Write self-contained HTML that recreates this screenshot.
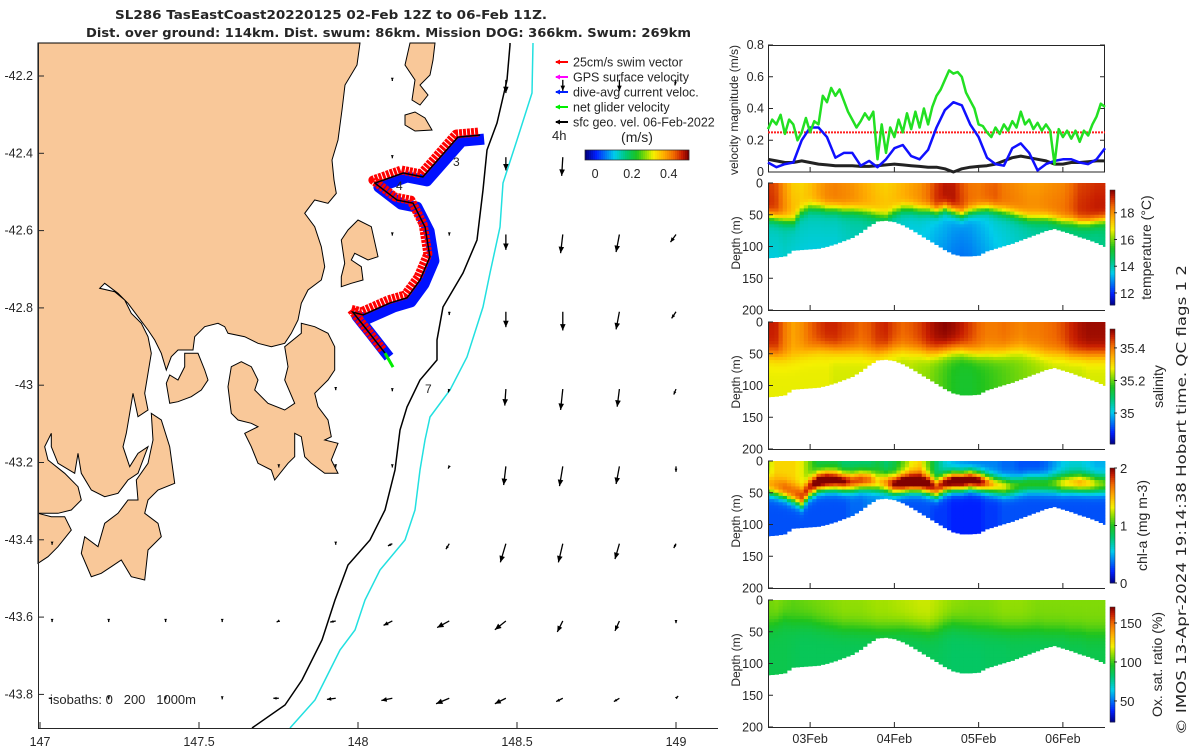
<!DOCTYPE html>
<html><head><meta charset="utf-8"><style>
html,body{margin:0;padding:0;background:#fff}
svg{display:block;font-family:"Liberation Sans",sans-serif}
text{fill:#262626}
</style></head><body>
<svg id="fig" xmlns="http://www.w3.org/2000/svg" width="1200" height="750" viewBox="0 0 1200 750">
<g font-weight="bold" font-size="12.5" font-family="'DejaVu Sans', sans-serif">
<text x="115" y="19" textLength="432" lengthAdjust="spacingAndGlyphs">SL286 TasEastCoast20220125 02-Feb 12Z to 06-Feb 11Z.</text>
<text x="86" y="37" textLength="605" lengthAdjust="spacingAndGlyphs">Dist. over ground: 114km. Dist. swum: 86km. Mission DOG: 366km. Swum: 269km</text>
</g>
<g id="map"></g>
<g id="vel"></g>
<g id="prof"></g>
<text transform="translate(1186,735) rotate(-90)" font-size="13" font-family="'DejaVu Sans', sans-serif" textLength="470" lengthAdjust="spacingAndGlyphs">© IMOS 13-Apr-2024 19:14:38 Hobart time. QC flags 1  2</text>
</svg>
<script>
// ---------------- DATA ----------------
const velTimes=[0,0.1,0.2,0.3,0.4,0.5,0.6,0.7,0.8,0.9,1.0,1.1,1.2,1.3,1.4,1.5,1.6,1.7,1.8,1.9,2.0,2.1,2.2,2.3,2.4,2.5,2.6,2.7,2.8,2.9,3.0,3.1,3.2,3.3,3.4,3.5,3.6,3.7,3.8,3.9,4.0];
const netTimes=[0,0.05,0.1,0.15,0.2,0.25,0.3,0.35,0.4,0.45,0.5,0.55,0.6,0.65,0.7,0.75,0.8,0.85,0.9,0.95,1.0,1.05,1.1,1.15,1.2,1.25,1.3,1.35,1.4,1.45,1.5,1.55,1.6,1.65,1.7,1.75,1.8,1.85,1.9,1.95,2.0,2.05,2.1,2.15,2.2,2.25,2.3,2.35,2.4,2.45,2.5,2.55,2.6,2.65,2.7,2.75,2.8,2.85,2.9,2.95,3.0,3.05,3.1,3.15,3.2,3.25,3.3,3.35,3.4,3.45,3.5,3.55,3.6,3.65,3.7,3.75,3.8,3.85,3.9,3.95,4.0];
const netGliderVel=[0.27,0.33,0.3,0.36,0.24,0.33,0.3,0.2,0.25,0.34,0.25,0.32,0.3,0.48,0.44,0.53,0.48,0.52,0.45,0.38,0.33,0.28,0.32,0.37,0.33,0.38,0.08,0.3,0.12,0.28,0.22,0.33,0.25,0.37,0.27,0.38,0.28,0.4,0.3,0.41,0.48,0.52,0.58,0.64,0.62,0.63,0.6,0.5,0.45,0.4,0.3,0.29,0.25,0.22,0.28,0.24,0.3,0.26,0.32,0.28,0.38,0.3,0.33,0.27,0.31,0.26,0.3,0.26,0.05,0.27,0.22,0.26,0.21,0.26,0.19,0.26,0.23,0.3,0.35,0.43,0.41];
const diveAvgVel=[0.06,0.03,0.05,0.06,0.2,0.28,0.28,0.22,0.09,0.12,0.12,0.04,0.07,0.03,0.08,0.15,0.17,0.1,0.08,0.14,0.28,0.39,0.44,0.42,0.3,0.22,0.09,0.05,0.04,0.15,0.18,0.12,0.01,0.05,0.07,0.08,0.08,0.06,0.05,0.08,0.15];
const sfcGeoVel=[0.08,0.07,0.06,0.06,0.07,0.06,0.05,0.045,0.04,0.04,0.04,0.035,0.035,0.04,0.045,0.05,0.045,0.04,0.035,0.03,0.03,0.02,0.0,0.02,0.03,0.035,0.04,0.05,0.07,0.09,0.1,0.09,0.08,0.07,0.05,0.05,0.06,0.06,0.065,0.07,0.07];
const swimVel=0.25;
const velTicks=[0,0.2,0.4,0.6,0.8];

const profTimes=velTimes;
const bottomDepth=[118,117,115,106,105,104,103,100,96,91,86,78,68,60,59,61,66,73,81,89,97,105,112,115,115,114,107,103,99,95,90,85,80,75,72,76,80,85,89,94,100];
const tempSurf=[19.3,19.0,18.2,17.6,17.4,17.6,18.0,18.3,18.4,18.3,18.2,18.0,17.8,17.6,17.5,17.6,17.8,18.0,18.2,18.6,19.2,19.5,19.5,19.0,18.6,18.5,18.7,18.8,18.5,18.4,18.3,18.2,18.2,18.3,18.4,18.5,18.8,19.2,19.3,19.4,19.4];
const tempMld=[52,55,58,60,45,38,38,40,40,42,42,44,46,50,52,45,40,40,42,42,45,40,45,50,45,42,40,42,45,48,52,55,55,55,57,60,60,62,62,60,58];
const tempDeep=[14.0,14.0,14.1,14.0,14.0,14.0,14.0,14.0,14.0,14.1,14.2,14.2,14.3,14.3,14.2,14.0,13.9,13.8,13.8,13.7,13.5,13.4,13.2,13.1,13.2,13.4,13.6,13.8,13.9,14.0,14.1,14.2,14.3,14.3,14.4,14.4,14.5,14.5,14.5,14.5,14.6];
const salSurf=[35.48,35.47,35.40,35.36,35.38,35.42,35.45,35.47,35.47,35.45,35.44,35.42,35.43,35.46,35.47,35.44,35.42,35.43,35.45,35.48,35.50,35.51,35.50,35.48,35.45,35.42,35.40,35.40,35.41,35.40,35.39,35.40,35.40,35.41,35.42,35.44,35.47,35.49,35.50,35.50,35.50];
const salMld=[50,52,55,55,50,45,42,42,44,45,45,46,48,48,46,44,44,45,46,48,48,46,45,45,48,50,50,50,48,46,45,46,48,50,50,50,52,52,52,52,52];
const salDeep=[35.27,35.27,35.27,35.27,35.27,35.27,35.27,35.27,35.26,35.26,35.26,35.26,35.26,35.26,35.25,35.25,35.24,35.24,35.23,35.22,35.20,35.18,35.16,35.15,35.15,35.16,35.17,35.18,35.19,35.20,35.21,35.22,35.23,35.24,35.25,35.25,35.25,35.25,35.26,35.26,35.26];
const chlSurf=[1.2,1.4,1.4,1.4,1.3,1.1,0.9,0.9,0.9,0.8,0.8,0.8,0.8,0.9,0.8,0.9,1.1,1.3,1.4,1.1,0.8,0.6,0.5,0.45,0.4,0.4,0.4,0.4,0.35,0.35,0.3,0.3,0.3,0.35,0.45,0.55,0.6,0.6,0.55,0.5,0.5];
const chlPeak=[1.5,1.6,1.7,1.7,1.8,1.9,2.2,2.2,2.1,2.0,1.8,1.8,1.7,1.4,1.6,2.0,2.2,2.2,2.2,2.1,1.8,2.0,2.2,2.2,2.2,2.1,1.7,1.4,1.3,1.1,1.0,1.0,1.0,1.0,1.1,1.3,1.4,1.5,1.4,1.2,1.1];
const chlPeakDepth=[35,38,42,48,55,40,32,30,30,32,32,30,30,32,34,36,34,32,32,36,42,35,32,32,30,32,35,38,40,40,38,36,36,36,35,35,34,34,35,36,36];
const chlDeep=[0.3,0.3,0.3,0.3,0.3,0.3,0.3,0.3,0.3,0.3,0.35,0.35,0.4,0.4,0.4,0.35,0.3,0.3,0.3,0.3,0.25,0.25,0.2,0.2,0.2,0.2,0.25,0.25,0.3,0.3,0.3,0.3,0.3,0.3,0.3,0.3,0.3,0.3,0.3,0.3,0.3];
const oxSurf=[106,108,106,104,105,106,107,108,109,110,110,110,111,112,112,113,114,115,116,116,114,112,110,109,108,108,108,109,110,110,110,109,108,108,108,108,108,108,108,108,108];
const oxMld=[40,35,30,35,35,35,38,40,42,44,44,45,45,46,46,45,44,45,46,48,45,40,38,40,42,44,44,45,46,46,46,46,46,48,48,48,50,50,52,52,52];
const oxDeep=[88,88,88,87,86,86,86,86,86,86,86,86,86,86,86,86,86,86,86,86,86,85,84,84,84,84,85,85,85,86,86,86,86,86,86,86,87,87,88,88,88];
const depthTicks=[0,50,100,150,200];
const dayLabels=["03Feb","04Feb","05Feb","06Feb"];
const dayTimes=[0.5,1.5,2.5,3.5];

const trackLon=[148.384,148.314,148.204,148.142,148.053,148.123,148.173,148.211,148.226,148.195,148.154,148.101,148.016,147.984,148.028,148.085];
const trackLat=[-42.353,-42.358,-42.461,-42.451,-42.477,-42.521,-42.529,-42.591,-42.668,-42.728,-42.774,-42.787,-42.818,-42.811,-42.857,-42.917];
const gridLon=[147.038,147.216,147.395,147.573,147.751,147.93,148.108,148.287,148.465,148.644,148.822,149.0];
const gridLat=[-42.21,-42.41,-42.61,-42.81,-43.01,-43.21,-43.41,-43.61,-43.81];
const arrowCol=[6,8,9,10,11, 6,8,9,10, 6,7,8,9,10,11, 6,7,8,9,10,11, 5,6,7,8,9,10,11, 4,5,6,7,8,9,10,11, 0,5,6,7,8,9,10,11, 0,1,2,3,4,5,6,7,8,9,10,11, 0,1,2,3,4,5,6,7,8,9,10,11];
const arrowRow=[0,0,0,0,0, 1,1,1,1, 2,2,2,2,2,2, 3,3,3,3,3,3, 4,4,4,4,4,4,4, 5,5,5,5,5,5,5,5, 6,6,6,6,6,6,6,6, 7,7,7,7,7,7,7,7,7,7,7,7, 8,8,8,8,8,8,8,8,8,8,8,8];
const arrowU=[0,0,0,0,-0.01, 0,0,-0.01,0, 0,0,0,-0.02,-0.03,-0.05, 0,0,0,0,-0.03,-0.04, 0,0,-0.01,-0.01,-0.02,-0.02,-0.02, 0,0,0,-0.01,-0.02,-0.03,-0.03,0, 0,0,-0.04,-0.03,-0.05,-0.04,-0.04,-0.02, 0,0,0,0,-0.02,-0.05,-0.08,-0.11,-0.1,-0.05,-0.04,0, -0.03,0,0,0,-0.05,-0.08,-0.1,-0.12,-0.1,-0.06,-0.05,0.02];
const arrowV=[-0.01,-0.12,-0.1,-0.1,-0.05, -0.01,-0.12,-0.17,-0.01, -0.01,-0.01,-0.14,-0.17,-0.16,-0.07, -0.01,-0.03,-0.14,-0.17,-0.16,-0.06, -0.01,-0.02,-0.03,-0.15,-0.19,-0.16,-0.05, -0.01,-0.01,-0.01,-0.02,-0.17,-0.18,-0.16,-0.05, -0.01,-0.01,-0.02,-0.05,-0.17,-0.17,-0.14,-0.04, -0.01,-0.01,-0.01,-0.01,-0.01,-0.01,-0.04,-0.06,-0.08,-0.1,-0.09,-0.02, 0,-0.01,-0.01,-0.01,0,-0.01,-0.02,-0.05,-0.05,-0.03,-0.03,0.02];
const lonTicks=[147,147.5,148,148.5,149];
const latTicks=[-42.2,-42.4,-42.6,-42.8,-43,-43.2,-43.4,-43.6,-43.8];
const cbTicks=[0,0.2,0.4];

// ---------------- HELPERS ----------------
const NS='http://www.w3.org/2000/svg';
function el(tag,parent){const e=document.createElementNS(NS,tag);parent.appendChild(e);return e;}
const stops=[[0,0,0,130],[0.1,0,32,255],[0.28,0,205,235],[0.4,0,200,110],[0.5,30,195,30],[0.6,160,225,0],[0.66,245,240,0],[0.76,255,175,0],[0.86,240,105,0],[0.94,200,30,0],[1,128,0,0]];
function cmap(f){f=Math.max(0,Math.min(1,f));for(let i=1;i<stops.length;i++){if(f<=stops[i][0]){const a=stops[i-1],b=stops[i],k=(f-a[0])/(b[0]-a[0]);return 'rgb('+[1,2,3].map(j=>Math.round(a[j]+(b[j]-a[j])*k)).join(',')+')';}}return 'rgb(128,0,0)';}
function lerpArr(arr,t){const i=Math.min(arr.length-2,Math.max(0,Math.floor(t/0.1)));const k=(t-profTimes[i])/0.1;return arr[i]+(arr[i+1]-arr[i])*k;}
function sig(x){return 1/(1+Math.exp(-x));}

// ---------------- MAP ----------------
const map=document.getElementById('map');
const xLon=lon=>40+(lon-147)*318;
const yLat=lat=>76+(-42.2-lat)*386.5;
function zc(p){return [38+p[0]/3,180+p[1]/3];}
const landShapes={
'mainland':[[0,-411],[966,-411],[957,-345],[921,-285],[912,-210],[900,-120],[882,-60],[888,0],[895,40],[870,70],[830,60],[800,100],[830,140],[850,200],[860,260],[850,300],[810,330],[790,370],[780,420],[760,460],[740,490],[700,500],[660,490],[620,470],[570,460],[560,440],[540,430],[500,440],[470,470],[465,510],[440,510],[420,510],[400,530],[385,570],[370,520],[350,480],[330,450],[300,410],[270,370],[240,340],[200,310],[185,325],[230,335],[260,360],[280,400],[310,430],[330,470],[340,520],[330,580],[320,640],[330,690],[300,710],[285,640],[275,700],[265,760],[255,800],[275,860],[300,820],[330,800],[300,880],[270,900],[240,940],[200,950],[160,930],[130,880],[120,820],[110,880],[60,850],[40,800],[40,760],[20,800],[30,840],[80,880],[120,920],[130,960],[100,990],[60,1000],[30,1000],[0,1000]],
'forestier-peninsula':[[440,520],[480,520],[500,570],[510,600],[490,630],[460,650],[420,665],[395,670],[385,610],[395,585],[420,600],[440,560]],
'south-arm-peninsula':[[300,960],[295,900],[330,850],[345,780],[340,700],[370,720],[395,800],[410,910],[360,930],[330,960],[320,1000],[360,1030],[370,1070],[330,1110],[320,1200],[280,1190],[250,1140],[220,1160],[190,1180],[160,1190],[130,1120],[140,1070],[180,1100],[200,1030],[240,1000],[270,960]],
'southwest-land':[[0,1000],[40,1010],[80,1010],[100,1050],[60,1100],[30,1130],[0,1150]],
'tasman-peninsula':[[570,620],[580,560],[610,545],[640,560],[660,600],[650,630],[690,670],[740,690],[770,670],[740,600],[750,560],[740,500],[790,460],[790,430],[830,440],[870,460],[890,500],[890,570],[870,600],[830,640],[840,680],[870,720],[880,770],[860,780],[900,790],[880,840],[900,880],[860,880],[820,850],[800,830],[790,770],[770,760],[770,830],[750,850],[710,900],[700,870],[660,850],[640,800],[620,760],[660,740],[640,730],[600,720],[580,700]],
'maria-island':[[910,180],[930,150],[960,120],[1000,140],[1020,230],[990,240],[950,220],[940,240],[970,260],[975,300],[940,310],[910,320],[910,290],[920,250]]
};
const origShapes={
'schouten-island':[[410,43],[435,43],[433,60],[430,75],[420,85],[428,95],[420,105],[412,100],[415,80],[405,65]],
'small-island':[[405,115],[415,112],[425,118],[432,130],[415,131],[405,125]]
};
function addLand(k,pts){const p=el('polygon',map);p.setAttribute('points',pts.map(q=>q[0].toFixed(1)+','+q[1].toFixed(1)).join(' '));p.setAttribute('fill','#f9c899');p.setAttribute('stroke','#000');p.setAttribute('stroke-width','1');

}
for(const k in landShapes) addLand(k,landShapes[k].map(zc));
for(const k in origShapes) addLand(k,origShapes[k]);
const iso200=[[510,43],[510,45],[507,80],[497,123],[487,150],[483,190],[477,240],[463,273],[443,307],[437,340],[437,360],[420,380],[407,407],[400,430],[395,470],[385,510],[370,540],[348,565],[335,600],[322,640],[302,680],[285,705],[252,728]];
const iso1000=[[533,43],[532,93],[517,140],[503,183],[500,227],[490,273],[483,307],[467,357],[450,390],[430,417],[425,440],[420,470],[415,510],[405,540],[380,570],[365,600],[355,630],[340,650],[325,680],[315,700],[290,728]];
[[iso200,'#000','isobath-200m'],[iso1000,'#22e0e0','isobath-1000m']].forEach(a=>{const l=el('polyline',map);l.setAttribute('points',a[0].map(q=>q.join(',')).join(' '));l.setAttribute('fill','none');l.setAttribute('stroke',a[1]);l.setAttribute('stroke-width','1.5');

});
for(let i=0;i<arrowCol.length;i++){
  const x0=xLon(gridLon[arrowCol[i]]),y0=yLat(gridLat[arrowRow[i]]);
  const dx=arrowU[i]*110,dy=-arrowV[i]*110,len=Math.hypot(dx,dy);
  const g=el('g',map);
  
  
  const ln=el('line',g);ln.setAttribute('x1',x0);ln.setAttribute('y1',y0);ln.setAttribute('x2',x0+dx);ln.setAttribute('y2',y0+dy);ln.setAttribute('stroke','#000');ln.setAttribute('stroke-width','1.3');
  const hs=Math.max(2,Math.min(4,len*0.3)),ux=len?dx/len:0,uy=len?dy/len:1;
  const hx=x0+dx,hy=y0+dy;
  const hd=el('polygon',g);hd.setAttribute('points',[hx,hy,hx-ux*hs*1.6-uy*hs*0.7,hy-uy*hs*1.6+ux*hs*0.7,hx-ux*hs*1.6+uy*hs*0.7,hy-uy*hs*1.6-ux*hs*0.7].map(v=>v.toFixed(1)).join(' '));hd.setAttribute('fill','#000');
}
const trk=trackLon.map((l,i)=>[xLon(l),yLat(trackLat[i])]);
const trkStr=(ox,oy)=>trk.map(q=>(q[0]+ox).toFixed(1)+','+(q[1]+oy).toFixed(1)).join(' ');
const tb=el('polyline',map);tb.setAttribute('points',trkStr(4,4));tb.setAttribute('fill','none');tb.setAttribute('stroke','#0010ff');tb.setAttribute('stroke-width','11');tb.setAttribute('stroke-linejoin','round');


const tr=el('polyline',map);tr.setAttribute('points',trkStr(-2,-3));tr.setAttribute('fill','none');tr.setAttribute('stroke','#ff0000');tr.setAttribute('stroke-width','9');tr.setAttribute('stroke-linejoin','round');tr.setAttribute('stroke-dasharray','3 1');


const tk=el('polyline',map);tk.setAttribute('points',trkStr(0,0));tk.setAttribute('fill','none');tk.setAttribute('stroke','#000');tk.setAttribute('stroke-width','1.5');


const last=trk[trk.length-1];
const ga=el('line',map);ga.setAttribute('x1',last[0]);ga.setAttribute('y1',last[1]);ga.setAttribute('x2',last[0]+8);ga.setAttribute('y2',last[1]+14);ga.setAttribute('stroke','#00ee00');ga.setAttribute('stroke-width','3');


[['3',453,166],['4',396,190],['7',425,393]].forEach(a=>{const t=el('text',map);t.textContent=a[0];t.setAttribute('x',a[1]);t.setAttribute('y',a[2]);t.setAttribute('font-size','12');

});
const ax=el('path',map);ax.setAttribute('d','M38.5,43 V728.5 H718');ax.setAttribute('stroke','#262626');ax.setAttribute('fill','none');


lonTicks.forEach(v=>{const x=xLon(v);const t=el('text',map);t.textContent=String(v);t.setAttribute('x',x);t.setAttribute('y',746);t.setAttribute('font-size','12.5');t.setAttribute('text-anchor','middle');


const k=el('line',map);k.setAttribute('x1',x);k.setAttribute('x2',x);k.setAttribute('y1',728);k.setAttribute('y2',722);k.setAttribute('stroke','#262626');});
latTicks.forEach(v=>{const y=yLat(v);const t=el('text',map);t.textContent=String(v);t.setAttribute('x',33);t.setAttribute('y',y+4);t.setAttribute('font-size','12.5');t.setAttribute('text-anchor','end');


const k=el('line',map);k.setAttribute('x1',38);k.setAttribute('x2',44);k.setAttribute('y1',y);k.setAttribute('y2',y);k.setAttribute('stroke','#262626');});
const iso=el('text',map);iso.textContent='isobaths: 0   200   1000m';iso.setAttribute('x',50);iso.setAttribute('y',704);iso.setAttribute('font-size','13');iso.style.whiteSpace='pre';


const legItems=[['25cm/s swim vector','#ff0000'],['GPS surface velocity','#ff00ff'],['dive-avg current veloc.','#0020ff'],['net glider velocity','#00ee00'],['sfc geo. vel. 06-Feb-2022','#000']];
legItems.forEach((a,i)=>{const y=62+i*15;const g=el('g',map);


const l=el('line',g);l.setAttribute('x1',556);l.setAttribute('x2',568);l.setAttribute('y1',y);l.setAttribute('y2',y);l.setAttribute('stroke',a[1]);l.setAttribute('stroke-width','2');
const h=el('polygon',g);h.setAttribute('points',`555,${y} 560,${y-2.5} 560,${y+2.5}`);h.setAttribute('fill',a[1]);
const t=el('text',g);t.textContent=a[0];t.setAttribute('x',573);t.setAttribute('y',y+4.5);t.setAttribute('font-size','12.5');});
const h4=el('text',map);h4.textContent='4h';h4.setAttribute('x',552);h4.setAttribute('y',140);h4.setAttribute('font-size','13');


const ms=el('text',map);ms.textContent='(m/s)';ms.setAttribute('x',637);ms.setAttribute('y',142);ms.setAttribute('font-size','14');ms.setAttribute('text-anchor','middle');


const cbx0=585,cbx1=689,cbMin=-0.055,cbMax=0.51;
for(let i=0;i<52;i++){const r=el('rect',map);r.setAttribute('x',cbx0+i*2);r.setAttribute('y',150);r.setAttribute('width',2.2);r.setAttribute('height',10);r.setAttribute('fill',cmap(i/51));}
const cbf=el('rect',map);cbf.setAttribute('x',cbx0);cbf.setAttribute('y',150);cbf.setAttribute('width',cbx1-cbx0);cbf.setAttribute('height',10);cbf.setAttribute('fill','none');cbf.setAttribute('stroke','#262626');cbf.setAttribute('stroke-width','0.7');


cbTicks.forEach(v=>{const x=cbx0+(v-cbMin)/(cbMax-cbMin)*(cbx1-cbx0);const t=el('text',map);t.textContent=String(v);t.setAttribute('x',x);t.setAttribute('y',178);t.setAttribute('font-size','12.5');t.setAttribute('text-anchor','middle');

});

// ---------------- VELOCITY ----------------
const vel=document.getElementById('vel');
const xT=t=>768+t*84.25;
const yV=v=>172-v*158.75;
const vb=el('rect',vel);vb.setAttribute('x',768.5);vb.setAttribute('y',45.5);vb.setAttribute('width',336);vb.setAttribute('height',126.5);vb.setAttribute('fill','none');vb.setAttribute('stroke','#262626');


velTicks.forEach(v=>{const y=yV(v);const t=el('text',vel);t.textContent=String(v);t.setAttribute('x',764);t.setAttribute('y',y+4);t.setAttribute('font-size','12.5');t.setAttribute('text-anchor','end');


[[768,773],[1100,1105]].forEach(p=>{const k=el('line',vel);k.setAttribute('x1',p[0]);k.setAttribute('x2',p[1]);k.setAttribute('y1',y);k.setAttribute('y2',y);k.setAttribute('stroke','#262626');});});
const vyl=el('text',vel);vyl.textContent='velocity magnitude (m/s)';vyl.setAttribute('transform','translate(738,110) rotate(-90)');vyl.setAttribute('font-size','12');vyl.setAttribute('text-anchor','middle');


const sw=el('line',vel);sw.setAttribute('x1',xT(0));sw.setAttribute('x2',xT(4));sw.setAttribute('y1',yV(swimVel));sw.setAttribute('y2',yV(swimVel));sw.setAttribute('stroke','#ff2020');sw.setAttribute('stroke-width','2');sw.setAttribute('stroke-dasharray','2 1');


[[velTimes,sfcGeoVel,'#222','sfc-geo-velocity-line',3],[velTimes,diveAvgVel,'#1010ff','dive-avg-velocity-line',2.5],[netTimes,netGliderVel,'#22e022','net-glider-velocity-line',2.5]].forEach(s=>{const l=el('polyline',vel);l.setAttribute('points',s[0].map((t,i)=>xT(t).toFixed(1)+','+yV(s[1][i]).toFixed(1)).join(' '));l.setAttribute('fill','none');l.setAttribute('stroke',s[2]);l.setAttribute('stroke-width',s[4]);l.setAttribute('stroke-linejoin','round');

});

// ---------------- PROFILES ----------------
const prof=document.getElementById('prof');
const panels=[
 {name:'temperature',top:183,min:11.1,max:19.7,ticks:[12,14,16,18],label:'temperature (°C)',lx:1151,
  f:(t,z)=>{const s=lerpArr(tempSurf,t),m=lerpArr(tempMld,t),d=lerpArr(tempDeep,t);return d-(z-m)*0.006+(s-d)*sig((m-z)/5)+ (z<m?-(m-z)*0.012:0);} },
 {name:'salinity',top:322,min:34.81,max:35.516,ticks:[35,35.2,35.4],label:'salinity',lx:1163,
  f:(t,z)=>{const s=lerpArr(salSurf,t),m=lerpArr(salMld,t),d=lerpArr(salDeep,t);return d+(s-d)*sig((m-z)/7);} },
 {name:'chlorophyll',top:461,min:0,max:2,ticks:[0,1,2],label:'chl-a (mg m-3)',lx:1147,
  f:(t,z)=>{const s=lerpArr(chlSurf,t),p=lerpArr(chlPeak,t),pd=lerpArr(chlPeakDepth,t),d=lerpArr(chlDeep,t);const base=d+(s-d)*sig((pd+12-z)/5);return base+(p-base)*Math.exp(-Math.pow((z-pd)/14,2));} },
 {name:'oxygen',top:600,min:23,max:170.5,ticks:[50,100,150],label:'Ox. sat. ratio (%)',lx:1162,
  f:(t,z)=>{const s=lerpArr(oxSurf,t),m=lerpArr(oxMld,t),d=lerpArr(oxDeep,t);return d+(s-d)*sig((m-z)/9);} }
];
const pz=0.635;
panels.forEach((P,pi)=>{
  const g=el('g',prof);
  
  
  const dt=0.05,dz=5;
  for(let t=0;t<=4.0001;t+=dt){
    const bd=lerpArr(bottomDepth,Math.min(t,3.999));
    const x0=Math.max(768.5,xT(t-dt/2)),x1=Math.min(1105,xT(t+dt/2));
    for(let z=0;z<bd;z+=dz){
      const zz=Math.min(z+dz,bd);
      const v=P.f(Math.min(t,3.999),(z+zz)/2);
      const r=el('rect',g);r.setAttribute('x',x0.toFixed(2));r.setAttribute('y',(P.top+z*pz).toFixed(2));r.setAttribute('width',(x1-x0+0.4).toFixed(2));r.setAttribute('height',((zz-z)*pz+0.4).toFixed(2));r.setAttribute('fill',cmap((v-P.min)/(P.max-P.min)));
    }
  }
  const a=el('path',prof);a.setAttribute('d',`M768.5,${P.top} V${P.top+200*pz+0.5} H1105`);a.setAttribute('stroke','#262626');a.setAttribute('fill','none');
  
  
  depthTicks.forEach(d=>{const y=P.top+d*pz;const t=el('text',prof);t.textContent=String(d);t.setAttribute('x',763);t.setAttribute('y',y+4.5);t.setAttribute('font-size','12.5');t.setAttribute('text-anchor','end');
  
  
  const k=el('line',prof);k.setAttribute('x1',768);k.setAttribute('x2',773);k.setAttribute('y1',y);k.setAttribute('y2',y);k.setAttribute('stroke','#262626');});
  const yl=el('text',prof);yl.textContent='Depth (m)';yl.setAttribute('transform',`translate(740,${P.top+60}) rotate(-90)`);yl.setAttribute('font-size','12');yl.setAttribute('text-anchor','middle');
  
  
  const cy0=P.top+7,cy1=P.top+122;const n=60;
  for(let i=0;i<n;i++){const r=el('rect',prof);r.setAttribute('x',1110);r.setAttribute('y',(cy1-(i+1)*(cy1-cy0)/n).toFixed(2));r.setAttribute('width',5);r.setAttribute('height',((cy1-cy0)/n+0.4).toFixed(2));r.setAttribute('fill',cmap((i+0.5)/n));}
  const cf=el('rect',prof);cf.setAttribute('x',1110);cf.setAttribute('y',cy0);cf.setAttribute('width',5);cf.setAttribute('height',cy1-cy0);cf.setAttribute('fill','none');cf.setAttribute('stroke','#262626');cf.setAttribute('stroke-width','0.5');
  
  
  P.ticks.forEach(v=>{const y=cy1-(v-P.min)/(P.max-P.min)*(cy1-cy0);const t=el('text',prof);t.textContent=String(v);t.setAttribute('x',1120);t.setAttribute('y',y+5);t.setAttribute('font-size','13');
  
  
  const k=el('line',prof);k.setAttribute('x1',1114);k.setAttribute('x2',1117);k.setAttribute('y1',y);k.setAttribute('y2',y);k.setAttribute('stroke','#262626');});
  const cl=el('text',prof);cl.textContent=P.label;cl.setAttribute('transform',`translate(${P.lx},${(cy0+cy1)/2}) rotate(-90)`);cl.setAttribute('font-size','14');cl.setAttribute('text-anchor','middle');
  
  
});
dayTimes.forEach((t,i)=>{const x=xT(t);const tx=el('text',prof);tx.textContent=dayLabels[i];tx.setAttribute('x',x);tx.setAttribute('y',743);tx.setAttribute('font-size','12.5');tx.setAttribute('text-anchor','middle');


[183,322,461,600].forEach(top=>{const k=el('line',prof);k.setAttribute('x1',x);k.setAttribute('x2',x);k.setAttribute('y1',top+127);k.setAttribute('y2',top+122);k.setAttribute('stroke','#262626');});
const k2=el('line',prof);k2.setAttribute('x1',x);k2.setAttribute('x2',x);k2.setAttribute('y1',172);k2.setAttribute('y2',167);k2.setAttribute('stroke','#262626');});
</script>
</body></html>
